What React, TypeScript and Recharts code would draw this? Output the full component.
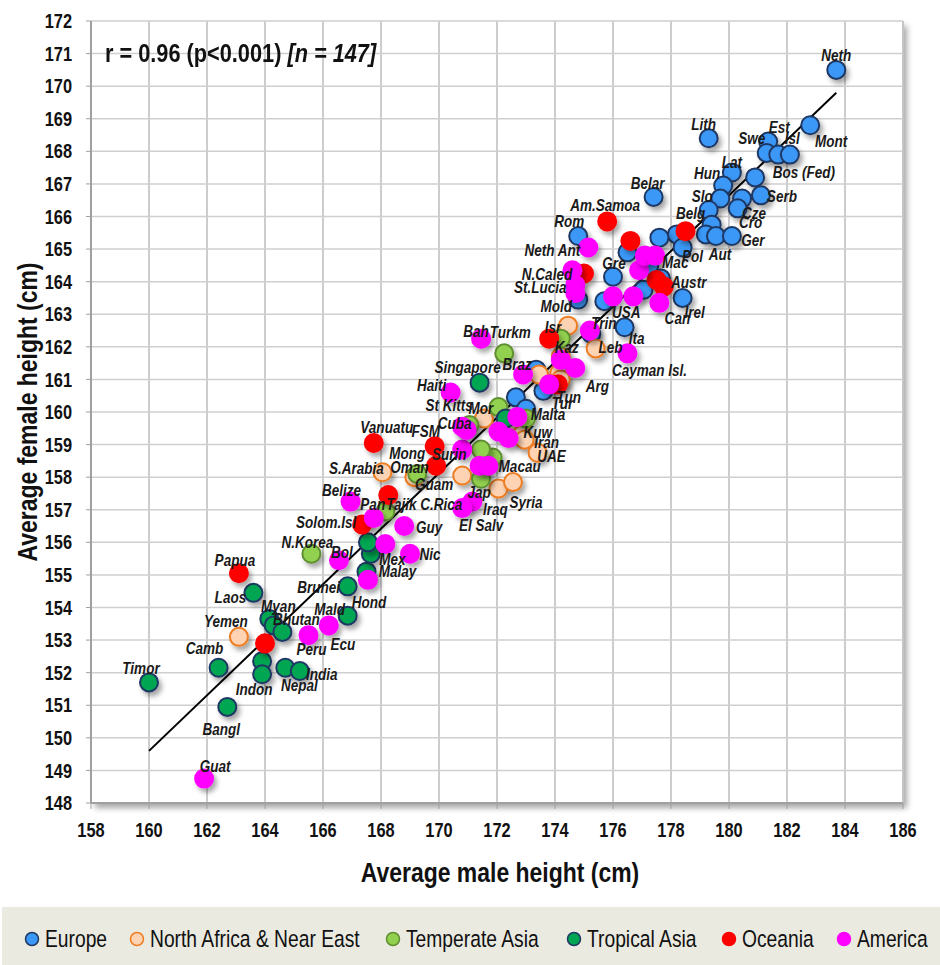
import React from 'react';
import { ScatterChart, Scatter, XAxis, YAxis, CartesianGrid, ReferenceLine } from 'recharts';

type Country = { name?: string; male: number; female: number };

// average heights (cm), grouped by region
const europe: Country[] = [
  { name: 'Neth', male: 183.7, female: 170.5 },
  { name: 'Lith', male: 179.3, female: 168.4 },
  { name: 'Mont', male: 182.8, female: 168.8 },
  { name: 'Est', male: 181.35, female: 168.3 },
  { name: 'Swe', male: 181.3, female: 167.95 },
  { name: 'Isl', male: 181.7, female: 167.9 },
  { name: 'Bos (Fed)', male: 182.1, female: 167.9 },
  { name: 'Lat', male: 180.1, female: 167.35 },
  { male: 180.9, female: 167.2 },
  { name: 'Hun', male: 179.8, female: 166.95 },
  { name: 'Slo', male: 179.7, female: 166.55 },
  { name: 'Cze', male: 180.45, female: 166.55 },
  { name: 'Serb', male: 181.1, female: 166.65 },
  { name: 'Cro', male: 180.3, female: 166.25 },
  { name: 'Belg', male: 179.3, female: 166.2 },
  { male: 179.4, female: 165.75 },
  { male: 179.2, female: 165.45 },
  { name: 'Aut', male: 179.55, female: 165.4 },
  { name: 'Ger', male: 180.1, female: 165.4 },
  { male: 178.2, female: 165.45 },
  { male: 177.6, female: 165.35 },
  { name: 'Pol', male: 178.4, female: 165.05 },
  { name: 'Belar', male: 177.4, female: 166.6 },
  { name: 'Rom', male: 174.8, female: 165.4 },
  { male: 176.5, female: 164.9 },
  { name: 'Mac', male: 177.25, female: 164.5 },
  { male: 177.65, female: 164.1 },
  { name: 'Gre', male: 176.0, female: 164.15 },
  { male: 177.05, female: 163.75 },
  { name: 'Irel', male: 178.4, female: 163.5 },
  { male: 175.7, female: 163.4 },
  { name: 'Mold', male: 174.8, female: 163.45 },
  { name: 'Ita', male: 176.4, female: 162.6 },
  { male: 175.25, female: 162.4 },
  { male: 173.35, female: 161.3 },
  { name: 'Tur', male: 173.6, female: 160.65 },
  { male: 172.65, female: 160.45 },
  { name: 'Malta', male: 173.0, female: 160.1 },
];

const nearEast: Country[] = [
  { name: 'Yemen', male: 163.1, female: 153.1 },
  { name: 'S.Arabia', male: 168.05, female: 158.15 },
  { name: 'Oman', male: 169.15, female: 158.0 },
  { male: 170.8, female: 158.05 },
  { name: 'Iraq', male: 172.05, female: 157.65 },
  { name: 'Syria', male: 172.55, female: 157.85 },
  { name: 'Mor', male: 171.55, female: 159.8 },
  { male: 172.5, female: 159.4 },
  { name: 'Kuw', male: 172.85, female: 159.3 },
  { name: 'Iran', male: 172.95, female: 159.15 },
  { name: 'UAE', male: 173.4, female: 158.75 },
  { male: 173.45, female: 161.15 },
  { male: 174.15, female: 161.2 },
  { name: 'Tun', male: 174.2, female: 161.0 },
  { male: 174.2, female: 161.7 },
  { name: 'Isr', male: 174.45, female: 162.65 },
  { name: 'Leb', male: 175.4, female: 161.95 },
];

const temperateAsia: Country[] = [
  { name: 'N.Korea', male: 165.6, female: 155.65 },
  { name: 'Tajik', male: 168.15, female: 156.95 },
  { name: 'Mong', male: 169.25, female: 158.1 },
  { name: 'Jap', male: 171.45, female: 157.95 },
  { name: 'Macau', male: 171.85, female: 158.6 },
  { male: 171.45, female: 158.85 },
  { male: 172.05, female: 160.15 },
  { male: 173.0, female: 159.8 },
  { male: 171.05, female: 159.6 },
  { name: 'Turkm', male: 172.25, female: 161.8 },
  { name: 'Kaz', male: 174.2, female: 162.25 },
];

const tropicalAsia: Country[] = [
  { name: 'Timor', male: 160.0, female: 151.7 },
  { name: 'Bangl', male: 162.7, female: 150.95 },
  { name: 'Camb', male: 162.4, female: 152.15 },
  { name: 'Laos', male: 163.6, female: 154.45 },
  { name: 'Myan', male: 164.15, female: 153.65 },
  { male: 164.3, female: 153.45 },
  { name: 'Bhutan', male: 164.6, female: 153.25 },
  { male: 163.9, female: 152.35 },
  { name: 'Indon', male: 163.9, female: 151.95 },
  { name: 'Nepal', male: 164.7, female: 152.15 },
  { name: 'India', male: 165.2, female: 152.05 },
  { name: 'Mald', male: 166.85, female: 153.75 },
  { name: 'Brunei', male: 166.85, female: 154.65 },
  { name: 'Malay', male: 167.5, female: 155.1 },
  { male: 167.65, female: 155.65 },
  { male: 167.55, female: 156.0 },
  { name: 'Singapore', male: 171.4, female: 160.9 },
  { male: 172.3, female: 159.8 },
];

const oceania: Country[] = [
  { name: 'Papua', male: 163.1, female: 155.05 },
  { male: 164.0, female: 152.9 },
  { name: 'Solom.Isl', male: 167.35, female: 156.55 },
  { male: 168.25, female: 157.45 },
  { name: 'Vanuatu', male: 167.75, female: 159.05 },
  { name: 'FSM', male: 169.85, female: 158.95 },
  { name: 'Guam', male: 169.9, female: 158.35 },
  { male: 173.8, female: 162.25 },
  { male: 174.1, female: 160.85 },
  { name: 'N.Caled', male: 175.0, female: 164.25 },
  { name: 'Am.Samoa', male: 175.8, female: 165.85 },
  { male: 176.6, female: 165.25 },
  { male: 178.5, female: 165.55 },
  { male: 177.5, female: 164.05 },
  { name: 'Austr', male: 177.75, female: 163.85 },
];

const america: Country[] = [
  { name: 'Guat', male: 161.9, female: 148.75 },
  { name: 'Peru', male: 165.5, female: 153.15 },
  { name: 'Ecu', male: 166.2, female: 153.45 },
  { name: 'Bol', male: 166.55, female: 155.45 },
  { name: 'Hond', male: 167.55, female: 154.85 },
  { name: 'Mex', male: 168.15, female: 155.95 },
  { name: 'Nic', male: 169.0, female: 155.65 },
  { name: 'Guy', male: 168.8, female: 156.5 },
  { name: 'Pan', male: 167.75, female: 156.75 },
  { name: 'Belize', male: 166.95, female: 157.25 },
  { name: 'Surin', male: 170.8, female: 158.85 },
  { name: 'C.Rica', male: 171.15, female: 157.25 },
  { name: 'El Salv', male: 170.8, female: 157.05 },
  { male: 171.4, female: 158.35 },
  { male: 171.7, female: 158.35 },
  { name: 'St Kitts', male: 170.8, female: 159.55 },
  { name: 'Cuba', male: 170.95, female: 159.45 },
  { male: 172.05, female: 159.4 },
  { male: 172.4, female: 159.2 },
  { male: 172.7, female: 159.85 },
  { name: 'Haiti', male: 170.4, female: 160.6 },
  { name: 'Bah', male: 171.45, female: 162.25 },
  { name: 'Braz', male: 172.9, female: 161.15 },
  { male: 173.8, female: 160.85 },
  { male: 174.2, female: 161.6 },
  { name: 'Arg', male: 174.7, female: 161.35 },
  { name: 'Trin', male: 175.2, female: 162.5 },
  { name: 'Cayman Isl.', male: 176.5, female: 161.8 },
  { male: 174.6, female: 164.35 },
  { name: 'St.Lucia', male: 174.7, female: 163.9 },
  { male: 174.7, female: 163.65 },
  { name: 'Neth Ant', male: 175.15, female: 165.05 },
  { male: 176.0, female: 163.55 },
  { name: 'USA', male: 176.7, female: 163.55 },
  { male: 176.9, female: 164.35 },
  { male: 177.1, female: 164.8 },
  { male: 177.45, female: 164.8 },
  { name: 'Can', male: 177.6, female: 163.35 },
];

// least-squares fit, drawn over the observed male range
const fitLine = [
  { x: 160.0, y: 149.6 },
  { x: 183.7, y: 169.8 },
];

const xTicks = [158, 160, 162, 164, 166, 168, 170, 172, 174, 176, 178, 180, 182, 184, 186];
const xMinorTicks = [159, 161, 163, 165, 167, 169, 171, 173, 175, 177, 179, 181, 183, 185];
const yTicks = [148, 149, 150, 151, 152, 153, 154, 155, 156, 157, 158, 159, 160, 161, 162, 163, 164, 165, 166, 167, 168, 169, 170, 171, 172];

const regions = [
  { name: 'Europe', data: europe, fill: '#3b98f7', stroke: '#1f3864' },
  { name: 'North Africa & Near East', data: nearEast, fill: '#fdd3b4', stroke: '#ee7d22' },
  { name: 'Temperate Asia', data: temperateAsia, fill: '#92d050', stroke: '#5f8f30' },
  { name: 'Tropical Asia', data: tropicalAsia, fill: '#00a651', stroke: '#1f3864' },
  { name: 'Oceania', data: oceania, fill: '#ff0000', stroke: '#ff0000' },
  { name: 'America', data: america, fill: '#ff00ff', stroke: '#ff00ff' },
];

// where each country name sits relative to its dot, in px
const labelOffsets: Record<string, [number, number]> = {
  Neth: [0, -15], Lith: [-5, -14], Mont: [21, 16], Est: [11, -15], Swe: [-15, -15],
  Isl: [14, -17], 'Bos (Fed)': [14, 17], Lat: [0, -11], Hun: [-16, -13], Slo: [-18, -3],
  Cze: [12, 14], Serb: [21, 1], Cro: [13, 14], Belg: [-18, 3], Aut: [4, 18], Ger: [21, 4],
  Pol: [10, 9], Belar: [-6, -14], Rom: [-9, -15], Mac: [26, -3], Gre: [1, -14],
  Irel: [12, 14], Mold: [-22, 6], Ita: [12, 11], Tur: [19, 12], Malta: [22, 5],
  Yemen: [-13, -16], 'S.Arabia': [-26, -4], Oman: [-5, -10], Iraq: [-3, 20], Syria: [13, 20],
  Mor: [-3, -11], Kuw: [16, -3], Iran: [22, 2], UAE: [14, 3], Tun: [8, 18], Isr: [-15, 1],
  Leb: [15, -1],
  'N.Korea': [-4, -12], Tajik: [16, -7], Mong: [-10, -21], Jap: [-2, 13], Macau: [27, 8],
  Turkm: [6, -21], Kaz: [6, 8],
  Timor: [-8, -14], Bangl: [-6, 22], Camb: [-14, -20], Laos: [-23, 4], Myan: [9, -13],
  Bhutan: [14, -13], Indon: [-8, 15], Nepal: [14, 17], India: [22, 3], Mald: [-18, -7],
  Brunei: [-29, 1], Malay: [31, -1], Singapore: [-12, -16],
  Papua: [-4, -13], 'Solom.Isl': [-36, -2], Vanuatu: [13, -16], FSM: [-9, -15], Guam: [-2, 18],
  'N.Caled': [-37, 0], 'Am.Samoa': [-2, -16], Austr: [25, -5],
  Guat: [11, -13], Peru: [3, 14], Ecu: [14, 19], Bol: [3, -8], Hond: [1, 22], Mex: [7, 15],
  Nic: [20, 0], Guy: [25, 1], Pan: [-1, -14], Belize: [-9, -12], Surin: [-13, 5],
  'C.Rica': [-31, 2], 'El Salv': [19, 17], 'St Kitts': [-13, -22], Cuba: [-12, -7],
  Haiti: [-19, -7], Bah: [-5, -8], Braz: [-6, -11], Arg: [22, 18], Trin: [14, -8],
  'Cayman Isl.': [22, 17], 'St.Lucia': [-35, 2], 'Neth Ant': [-36, 3], USA: [-7, 16],
  Can: [18, 15],
};

// legend marker centres along the key strip
const legendX = [30, 135, 391, 572, 727, 842];

const labelled = regions.flatMap((r) => r.data.filter((d) => d.name));

const FONT = "'Liberation Sans', Arial, sans-serif";
const NARROW = 0.82; // squeeze Arial into an Arial Narrow look

const NarrowText = ({ x, y, anchor = 'middle', children, ...rest }: any) => (
  <text
    transform={`translate(${x},${y}) scale(${NARROW},1)`}
    textAnchor={anchor}
    dominantBaseline="central"
    fontFamily={FONT}
    {...rest}
  >
    {children}
  </text>
);

const makeDot = (fill: string, stroke: string) => (props: any) => (
  <circle cx={props.cx} cy={props.cy} r={9} fill={fill} stroke={stroke} strokeWidth={2} filter="url(#dotShadow)" />
);

const NameLabel = (props: any) => {
  const name = props.payload?.name as string;
  const [dx, dy] = labelOffsets[name] ?? [0, -14];
  return (
    <NarrowText x={props.cx + dx} y={props.cy + dy} fontSize={16.5} fontWeight="bold" fontStyle="italic" fill="#1a1a1a">
      {name}
    </NarrowText>
  );
};

const XTick = (p: any) => (
  <NarrowText x={p.x} y={p.y + 7} fontSize={20} fontWeight="bold" fill="#111">{p.payload.value}</NarrowText>
);

const YTick = (p: any) => (
  <NarrowText x={p.x} y={p.y} anchor="end" fontSize={20} fontWeight="bold" fill="#111">{p.payload.value}</NarrowText>
);

const XTitle = (props: any) => {
  const vb = props.viewBox;
  return (
    <NarrowText x={vb.x + vb.width / 2 + 3} y={872} fontSize={28} fontWeight="bold" fill="#111">
      Average male height (cm)
    </NarrowText>
  );
};

const YTitle = (props: any) => {
  const vb = props.viewBox;
  const cx = 27;
  const cy = vb.y + vb.height / 2;
  return (
    <text
      transform={`translate(${cx},${cy}) rotate(-90) scale(${NARROW},1)`}
      textAnchor="middle" dominantBaseline="central"
      fontFamily={FONT} fontSize={28} fontWeight="bold" fill="#111"
    >
      Average female height (cm)
    </text>
  );
};

export default function App() {
  return (
    <div style={{ position: 'absolute', left: 0, top: 0, width: 940, height: 965, background: '#fff', fontFamily: FONT }}>
      <svg width={0} height={0} style={{ position: 'absolute' }}>
        <defs>
          <filter id="dotShadow" x="-60%" y="-60%" width="220%" height="220%">
            <feDropShadow dx={3} dy={4} stdDeviation={2.5} floodColor="#000" floodOpacity={0.35} />
          </filter>
        </defs>
      </svg>
      <div style={{
        position: 'absolute', left: 91, top: 21, width: 812, height: 782, background: '#fff',
        boxShadow: '4px 5px 6px rgba(0,0,0,0.35)',
      }} />
      <div style={{ position: 'absolute', left: 0, top: 0 }}>
        <ScatterChart width={940} height={900} margin={{ top: 21, right: 37, bottom: 0, left: 0 }}>
          <XAxis xAxisId="minor" type="number" dataKey="male" domain={[158, 186]} ticks={xMinorTicks} hide />
          <CartesianGrid xAxisId="minor" horizontal={false} stroke="#dcdcdc" strokeWidth={1.5} />
          <CartesianGrid horizontal={false} stroke="#bdbdbd" strokeWidth={1.5} />
          <CartesianGrid vertical={false} stroke="#cfcfcf" strokeWidth={1.5} />
          <XAxis
            type="number" dataKey="male" domain={[158, 186]} ticks={xTicks} interval={0}
            height={97} tickSize={6} tickMargin={14} tick={<XTick />}
            axisLine={{ stroke: '#a0a0a0', strokeWidth: 2 }} tickLine={{ stroke: '#a0a0a0' }}
            label={<XTitle />}
          />
          <YAxis
            type="number" dataKey="female" domain={[148, 172]} ticks={yTicks} interval={0}
            width={91} tickSize={5} tickMargin={14} tick={<YTick />}
            axisLine={{ stroke: '#a0a0a0', strokeWidth: 2 }} tickLine={{ stroke: '#a0a0a0' }}
            label={<YTitle />}
          />
          {regions.map((r) => (
            <Scatter key={r.name} name={r.name} data={r.data} shape={makeDot(r.fill, r.stroke)} isAnimationActive={false} />
          ))}
          <ReferenceLine segment={fitLine} stroke="#000" strokeWidth={2} />
          <Scatter name="labels" data={labelled} shape={NameLabel} legendType="none" isAnimationActive={false} />
        </ScatterChart>
      </div>
      <div style={{
        position: 'absolute', left: 105, top: 37, fontSize: 26.5, lineHeight: '32px', fontWeight: 'bold', color: '#111',
        whiteSpace: 'nowrap', transform: `scaleX(${NARROW})`, transformOrigin: 'left top',
      }}>
        r = 0.96 (p&lt;0.001) <i>[n = 147]</i>
      </div>
      <div style={{ position: 'absolute', left: 2, top: 907, width: 938, height: 58, background: '#ebeae1' }}>
        <svg width={938} height={58}>
          {regions.map((r, i) => (
            <g key={r.name}>
              <circle cx={legendX[i]} cy={32} r={6.5} fill={r.fill} stroke={r.stroke} strokeWidth={1.5} />
              <NarrowText x={legendX[i] + 13} y={32} anchor="start" fontSize={23.5} fill="#111">{r.name}</NarrowText>
            </g>
          ))}
        </svg>
      </div>
    </div>
  );
}
